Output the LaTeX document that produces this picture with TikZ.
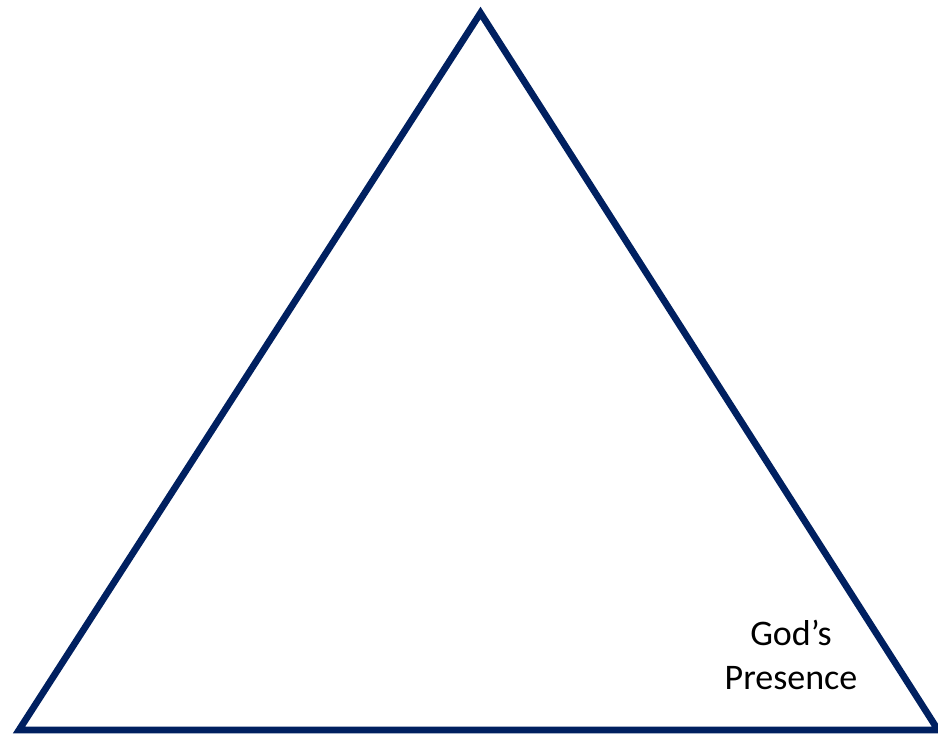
\documentclass[tikz,border=0pt]{standalone}
\usepackage{fontspec}
\setmainfont{Carlito}
\usetikzlibrary{positioning}

\begin{document}
\begin{tikzpicture}[x=1pt, y=1pt, line width=6.75pt]

%colours
\definecolor{navyblue}{HTML}{002060}
\colorlet{edgecolor}{navyblue}

\useasboundingbox (0,0) rectangle (938,734);

%vertices
  \coordinate (Top) at (480.5,721);
  \coordinate (Left) at (19,4);
  \coordinate (Right) at (938,4);

%edges
  \draw[edgecolor, line join=miter] (Top) -- (Left) -- (Right) -- cycle;

%label
  \node[font=\fontsize{36}{44}\selectfont, align=center, inner sep=0pt] (presence) at (791,79) {God’s\\Presence};
\end{tikzpicture}
\end{document}
